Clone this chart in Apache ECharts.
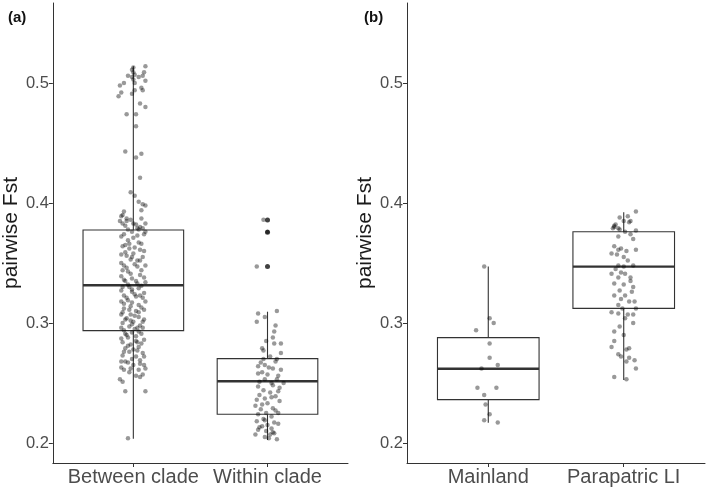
<!DOCTYPE html>
<html>
<head>
<meta charset="utf-8">
<script src="https://cdn.jsdelivr.net/npm/echarts@6/dist/echarts.min.js"></script>
<style>
  html, body { margin: 0; padding: 0; background: #fff; }
  #chart { width: 709px; height: 492px; }
</style>
</head>
<body>
<div id="chart"></div>
<script>
// 分类
const catsA = ["Between clade", "Within clade"];
const catsB = ["Mainland", "Parapatric LI"];
const yTicks = [0.2, 0.3, 0.4, 0.5];

// 箱线统计 [min, Q1, median, Q3, max]
const boxBetween = [0.2036, 0.2936, 0.3314, 0.3775, 0.514];
const boxWithin = [0.2025, 0.2239, 0.2514, 0.2703, 0.3094];
const boxMainland = [0.2169, 0.2361, 0.2619, 0.2878, 0.347];
const boxParapatric = [0.2525, 0.3122, 0.347, 0.3761, 0.3922];

// 离群点
const outWithin = [0.3858, 0.3756, 0.347];

// 抖动点 [水平偏移, 值]
const ptsBetween = [
  [0.09,0.514],[0.08,0.509],[0.04,0.505],[0.09,0.502],[-0.04,0.506],[-0.07,0.500],[-0.10,0.498],[-0.09,0.492],
  [-0.11,0.489],[0.01,0.500],[0.01,0.494],[0.07,0.494],[-0.01,0.491],[0.05,0.483],[0.09,0.480],[-0.05,0.474],
  [0.02,0.474],[0.02,0.464],[-0.06,0.443],[0.02,0.438],[0.06,0.441],[0.05,0.421],[-0.02,0.409],[0.01,0.406],
  [0.04,0.401],[0.07,0.399],[0.09,0.398],[0.06,0.394],[-0.07,0.393],[-0.09,0.389],[-0.05,0.387],[-0.02,0.386],
  [0.09,0.383],[-0.08,0.383],[0.00,0.383],[0.05,0.380],[0.03,0.379],[-0.04,0.378],[-0.09,0.372],[0.08,0.374],
  [0.00,0.371],[0.04,0.367],[-0.06,0.365],[-0.03,0.362],[0.05,0.361],[-0.09,0.357],[-0.05,0.356],[0.00,0.358],
  [0.07,0.355],[-0.02,0.353],[-0.07,0.348],[0.09,0.348],[0.03,0.347],[-0.04,0.343],[-0.09,0.339],[-0.01,0.337],
  [0.05,0.340],[-0.06,0.335],[0.02,0.335],[-0.08,0.330],[-0.03,0.330],[0.04,0.329],[0.08,0.325],[-0.01,0.326],
  [-0.07,0.323],[0.02,0.322],[0.07,0.321],[-0.04,0.319],[-0.09,0.318],[-0.01,0.317],[0.04,0.315],[-0.07,0.312],
  [-0.03,0.311],[0.02,0.310],[0.08,0.311],[-0.09,0.307],[-0.02,0.307],[0.04,0.305],[-0.06,0.303],[0.00,0.301],
  [-0.08,0.300],[0.07,0.301],[-0.03,0.297],[0.03,0.296],[-0.07,0.294],[0.04,0.293],[-0.01,0.292],[-0.04,0.288],
  [0.08,0.286],[0.02,0.285],[-0.08,0.284],[-0.02,0.282],[0.04,0.280],[-0.06,0.279],[0.00,0.278],[0.07,0.275],
  [-0.03,0.276],[-0.08,0.273],[0.02,0.272],[0.05,0.269],[-0.09,0.268],[-0.04,0.267],[0.00,0.265],[0.08,0.265],
  [-0.02,0.262],[-0.07,0.261],[0.04,0.261],[0.07,0.257],[0.02,0.256],[-0.10,0.253],[-0.08,0.251],[-0.06,0.243],
  [0.09,0.243],[-0.04,0.204],
  [0.00,0.513],[-0.01,0.511],[0.00,0.509],[0.01,0.507],[-0.01,0.505],[0.00,0.503],[0.07,0.506],[0.06,0.496],
  [-0.08,0.390],[0.06,0.387],[-0.10,0.385],[0.02,0.382],[-0.06,0.381],[0.07,0.379],[-0.01,0.376],[0.09,0.376],
  [-0.07,0.374],[0.03,0.373],[-0.04,0.369],[0.06,0.366],[-0.08,0.364],[0.01,0.363],[0.08,0.360],[-0.06,0.359],
  [-0.01,0.355],[0.05,0.352],[-0.09,0.350],[0.01,0.349],[-0.05,0.346],[0.06,0.344],[-0.02,0.341],[0.08,0.338],
  [-0.07,0.336],[0.03,0.333],[-0.04,0.332],[0.06,0.331],[-0.09,0.327],[0.01,0.324],[-0.05,0.321],[0.09,0.318],
  [-0.02,0.314],[0.06,0.313],[-0.08,0.309],[0.01,0.306],[-0.05,0.304],[0.08,0.303],[-0.01,0.299],[0.05,0.298],
  [-0.09,0.296],[0.01,0.295],[0.06,0.291],[-0.05,0.290],[0.02,0.289],[-0.09,0.287],[0.06,0.283],[-0.04,0.281],
  [0.03,0.277],[-0.07,0.276],[0.08,0.272],[-0.01,0.270],[-0.06,0.268],[0.05,0.266],[0.09,0.262],[-0.03,0.259],
  [0.05,0.255],[-0.09,0.263],[0.03,0.284],[-0.06,0.291],[0.07,0.296],[-0.02,0.302],[0.04,0.309],[-0.07,0.316],
  [0.05,0.323],[-0.01,0.328],[0.09,0.334],[-0.08,0.344],[0.03,0.352],[-0.03,0.366],[0.04,0.378],[-0.05,0.385]
];
const ptsWithin = [
  [-0.03,0.386],[0.00,0.376],[-0.08,0.347],[-0.07,0.308],[0.07,0.310],[-0.02,0.305],[0.05,0.293],[-0.01,0.285],
  [0.05,0.283],[0.10,0.283],[-0.04,0.279],[0.10,0.275],[0.02,0.272],[-0.03,0.270],[0.07,0.270],[-0.02,0.265],
  [-0.07,0.264],[0.04,0.262],[0.10,0.261],[-0.07,0.258],[0.00,0.257],[0.08,0.256],[-0.02,0.253],[0.03,0.250],
  [0.12,0.250],[-0.07,0.247],[0.09,0.246],[0.02,0.242],[0.06,0.239],[-0.02,0.237],[-0.08,0.236],[0.09,0.235],
  [0.00,0.233],[-0.04,0.232],[-0.09,0.231],[0.04,0.229],[-0.01,0.225],[0.08,0.225],[-0.07,0.224],[0.03,0.222],
  [-0.03,0.220],[-0.08,0.218],[0.05,0.217],[0.00,0.215],[-0.04,0.214],[0.03,0.212],[-0.07,0.211],[-0.01,0.210],
  [-0.09,0.207],[0.02,0.207],[0.07,0.203],[-0.02,0.205],[0.04,0.209],
  [0.06,0.268],[-0.05,0.267],[0.01,0.263],[-0.04,0.259],[0.07,0.253],[-0.06,0.251],[0.04,0.248],[-0.03,0.244],
  [0.08,0.243],[-0.06,0.240],[0.03,0.238],[-0.05,0.228],[0.06,0.227],[-0.02,0.219],[0.08,0.216],[-0.06,0.213],
  [0.05,0.208],[0.01,0.204],[-0.03,0.277],[0.04,0.288],[-0.08,0.301],[0.06,0.298]
];
const ptsMainland = [
  [-0.03,0.347],[0.01,0.304],[0.04,0.300],[-0.09,0.294],[0.01,0.283],[0.01,0.271],[0.07,0.265],[-0.05,0.262],
  [-0.08,0.246],[0.06,0.246],[-0.03,0.240],[-0.02,0.232],[0.01,0.224],[-0.03,0.219],[0.07,0.217]
];
const ptsParapatric = [
  [0.09,0.393],[0.03,0.389],[-0.03,0.388],[0.05,0.385],[0.00,0.385],[-0.07,0.381],[-0.07,0.380],[-0.04,0.379],
  [-0.03,0.378],[0.09,0.377],[0.05,0.374],[-0.04,0.372],[0.07,0.370],[-0.07,0.364],[-0.02,0.362],[-0.04,0.361],
  [0.02,0.360],[0.09,0.361],[-0.09,0.358],[0.00,0.355],[-0.04,0.348],[0.07,0.348],[0.00,0.347],[-0.09,0.341],
  [-0.02,0.342],[0.01,0.341],[0.05,0.338],[-0.04,0.338],[-0.07,0.333],[0.00,0.332],[0.07,0.330],[-0.03,0.327],
  [-0.07,0.323],[0.01,0.323],[0.04,0.318],[0.08,0.318],[-0.04,0.315],[-0.01,0.312],[0.09,0.312],[-0.09,0.309],
  [-0.04,0.308],[0.03,0.307],[0.07,0.307],[0.01,0.304],[0.07,0.300],[-0.03,0.297],[-0.07,0.293],[0.00,0.290],
  [-0.07,0.285],[-0.09,0.280],[0.02,0.278],[0.04,0.279],[-0.04,0.274],[-0.02,0.272],[0.04,0.271],[0.02,0.268],
  [0.08,0.269],[0.09,0.262],[-0.07,0.255],[0.02,0.253],[-0.08,0.379],[-0.06,0.382],[0.04,0.384],[0.01,0.376],
  [-0.05,0.357],[0.03,0.352],[-0.06,0.345],[0.05,0.335],[-0.02,0.320],[0.06,0.326]
];

const FONT = "Liberation Sans, Arial, sans-serif";
const LINE = "#333333";
const LABEL = "#4d4d4d";

// 抖动点转为坐标
function jitter(pts, pos) {
  return pts.map(p => [pos + p[0], p[1]]);
}

// 箱线图 custom 渲染
function renderBox(params, api) {
  const x = api.value(0);
  const hw = 0.375;
  const pMin = api.coord([x, api.value(1)]);
  const pQ1 = api.coord([x, api.value(2)]);
  const pQ3 = api.coord([x, api.value(4)]);
  const pMax = api.coord([x, api.value(5)]);
  const l1 = api.coord([x - hw, api.value(4)]);
  const r1 = api.coord([x + hw, api.value(2)]);
  const mL = api.coord([x - hw, api.value(3)]);
  const mR = api.coord([x + hw, api.value(3)]);
  const lineStyle = { stroke: LINE, lineWidth: 1.1, fill: null };
  return {
    type: "group",
    children: [
      { type: "line", shape: { x1: pMin[0], y1: pMin[1], x2: pQ1[0], y2: pQ1[1] }, style: lineStyle },
      { type: "line", shape: { x1: pQ3[0], y1: pQ3[1], x2: pMax[0], y2: pMax[1] }, style: lineStyle },
      { type: "rect", shape: { x: l1[0], y: l1[1], width: r1[0] - l1[0], height: r1[1] - l1[1] },
        style: { stroke: LINE, lineWidth: 1.1, fill: "#fff" } },
      { type: "line", shape: { x1: mL[0], y1: mL[1], x2: mR[0], y2: mR[1] },
        style: { stroke: LINE, lineWidth: 2.4 } }
    ]
  };
}

function xAxisFor(gridIndex, cats) {
  return {
    type: "value",
    gridIndex,
    min: 0.4,
    max: 2.6,
    splitLine: { show: false },
    axisLine: { show: true, lineStyle: { color: LINE, width: 1 } },
    axisTick: { show: true, length: 4, customValues: [1, 2], lineStyle: { color: LINE } },
    axisLabel: {
      customValues: [1, 2],
      formatter: v => cats[Math.round(v) - 1],
      color: LABEL, fontSize: 20, fontFamily: FONT, margin: 4
    }
  };
}

function yAxisFor(gridIndex) {
  return {
    type: "value",
    gridIndex,
    min: 0.1833,
    max: 0.5667,
    name: "pairwise Fst",
    nameLocation: "middle",
    nameRotate: 90,
    nameGap: 23,
    nameTextStyle: { color: "#1a1a1a", fontSize: 21, fontFamily: FONT },
    splitLine: { show: false },
    axisLine: { show: true, lineStyle: { color: LINE, width: 1 } },
    axisTick: { show: true, length: 4, customValues: yTicks, lineStyle: { color: LINE } },
    axisLabel: {
      customValues: yTicks,
      formatter: v => v.toFixed(1),
      color: LABEL, fontSize: 16.5, fontFamily: FONT, margin: 4
    }
  };
}

const pointStyle = { color: "rgba(0,0,0,0.5)" };

const chart = echarts.init(document.getElementById("chart"));
chart.setOption({
  animation: false,
  backgroundColor: "#fff",
  title: [
    { text: "(a)", left: 3, top: 5, textStyle: { fontSize: 15, fontWeight: "bold", color: "#111", fontFamily: FONT } },
    { text: "(b)", left: 359, top: 5, textStyle: { fontSize: 15, fontWeight: "bold", color: "#111", fontFamily: FONT } }
  ],
  grid: [
    { left: 50, top: 3, width: 298, height: 460 },
    { left: 407, top: 3, width: 298, height: 460 }
  ],
  xAxis: [xAxisFor(0, catsA), xAxisFor(1, catsB)],
  yAxis: [yAxisFor(0), yAxisFor(1)],
  series: [
    {
      type: "custom", xAxisIndex: 0, yAxisIndex: 0, z: 1,
      renderItem: renderBox,
      encode: { x: 0, y: [1, 2, 3, 4, 5] },
      data: [[1].concat(boxBetween), [2].concat(boxWithin)]
    },
    {
      type: "custom", xAxisIndex: 1, yAxisIndex: 1, z: 1,
      renderItem: renderBox,
      encode: { x: 0, y: [1, 2, 3, 4, 5] },
      data: [[1].concat(boxMainland), [2].concat(boxParapatric)]
    },
    {
      type: "scatter", xAxisIndex: 0, yAxisIndex: 0, z: 3,
      symbolSize: 5, itemStyle: { color: "#111" },
      data: outWithin.map(v => [2, v])
    },
    {
      type: "scatter", xAxisIndex: 0, yAxisIndex: 0, z: 4,
      symbolSize: 4.5, itemStyle: pointStyle,
      data: jitter(ptsBetween, 1).concat(jitter(ptsWithin, 2))
    },
    {
      type: "scatter", xAxisIndex: 1, yAxisIndex: 1, z: 4,
      symbolSize: 4.5, itemStyle: pointStyle,
      data: jitter(ptsMainland, 1).concat(jitter(ptsParapatric, 2))
    }
  ]
});
</script>
</body>
</html>
